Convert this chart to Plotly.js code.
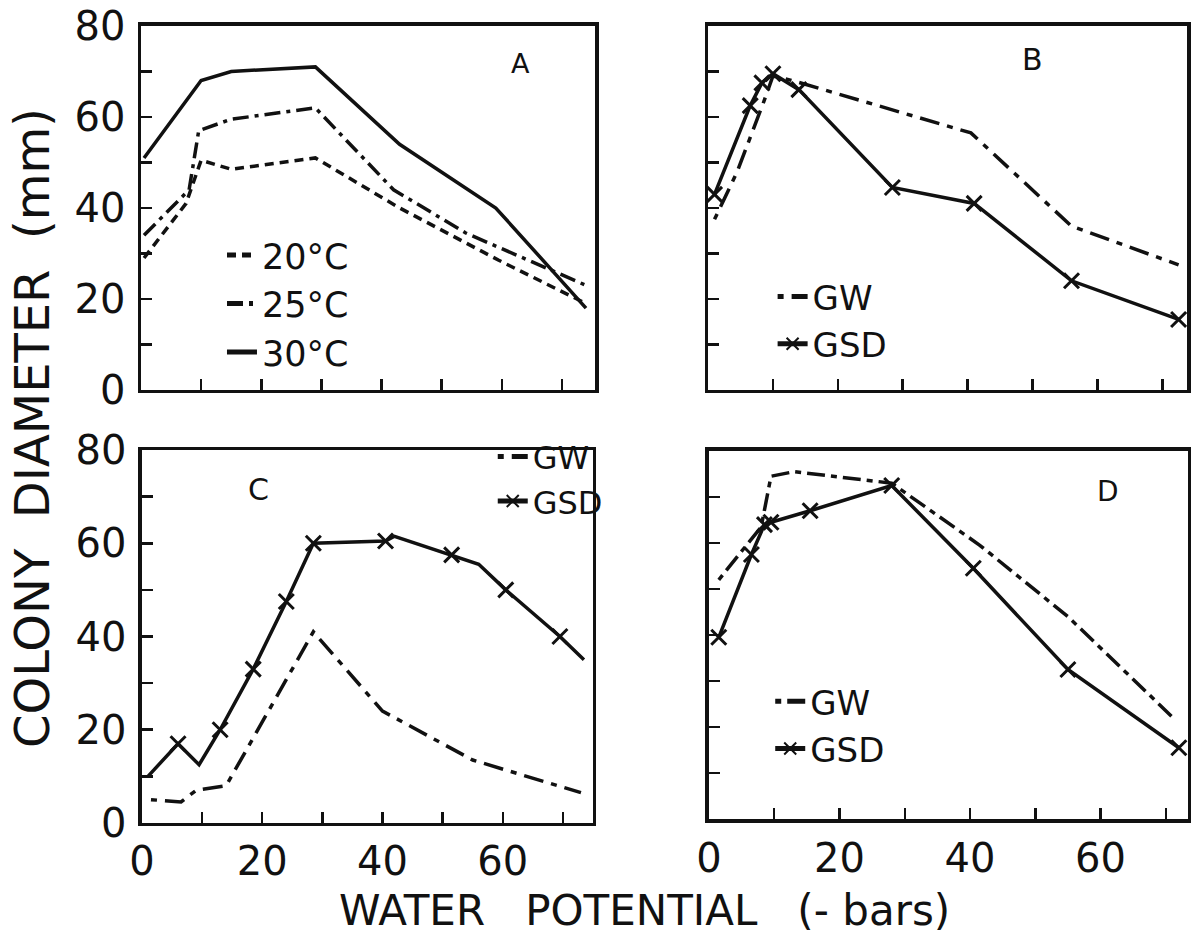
<!DOCTYPE html>
<html>
<head>
<meta charset="utf-8">
<script src="https://cdn.plot.ly/plotly-3.0.1.min.js"></script>
<style>html,body{margin:0;padding:0;background:#fff;}#chart{width:1196px;height:937px;}</style>
</head>
<body>
<div id="chart"></div>
<script>
// ---- Data ----
// Panel A: temperatures
const xA20 = [0.5, 7.5, 10, 15, 29, 43, 59.5, 74];
const yA20 = [29, 41, 50.5, 48.5, 51, 40, 28.5, 19];
const xA25 = [0.5, 8, 9.6, 15, 29, 42, 54, 60, 74];
const yA25 = [34, 44, 57, 59.5, 62, 44, 34.5, 31, 23];
const xA30 = [0.5, 10, 15, 29, 43, 59, 74];
const yA30 = [51, 68, 70, 71, 54, 40, 18];
// Panel B
const xBGW = [1, 4.5, 8.5, 10, 13, 40.5, 56, 72.5];
const yBGW = [37.5, 48, 63, 69, 68, 56.5, 36, 27.5];
const xBGSD = [1, 6.5, 8.3, 10, 14, 28.4, 41, 56, 72.5];
const yBGSD = [43, 62.5, 67.5, 69.5, 66, 44.5, 41, 24, 15.5];
// Panel C
const xCGW = [1.5, 6.5, 9, 14, 28.5, 40, 55, 73];
const yCGW = [5, 4.5, 7, 8, 41, 24, 13.5, 6.5];
const xCGSD = [1, 6, 9.5, 13, 18.5, 24, 28.5, 40.5, 42, 51.5, 56, 60.5, 69.5, 73.5];
const yCGSD = [10, 17, 12.5, 20, 33, 47.5, 60, 60.5, 61.5, 57.5, 55.5, 50, 40, 35];
const cGSDMeasured = [false, true, false, true, true, true, true, true, false, true, false, true, true, false];
// Panel D
const xDGW = [1.5, 6, 8, 9.5, 13, 28, 41.5, 55, 71.5];
const yDGW = [52, 60, 63.5, 74.5, 75.5, 73, 59.5, 44, 21.5];
const xDGSD = [1.5, 6.5, 8.5, 9.5, 15.5, 28, 40.5, 55, 72];
const yDGSD = [39.5, 57.5, 64, 64.5, 67, 72.5, 54.5, 32.5, 15.5];
// Ticks
const yTickVals = [0, 10, 20, 30, 40, 50, 60, 70, 80];
const yTickText = ['0', '', '20', '', '40', '', '60', '', '80'];
const xTickVals = [0, 10, 20, 30, 40, 50, 60, 70];
const xTickText = ['0', '', '20', '', '40', '', '60', ''];
const panelLabels = ['A', 'B', 'C', 'D'];
const legendNames = {t20: '20°C', t25: '25°C', t30: '30°C', gw: 'GW', gsd: 'GSD'};

// ---- Styling ----
const FONT = 'DejaVu Sans, Liberation Sans, sans-serif';
const LW = 3.5;
const blk = '#111';
const xMarker = {symbol: 'x-thin-open', size: 15, color: blk, opacity: 1, line: {color: blk, width: 3}};

const traces = [
  {x: xA20, y: yA20, xaxis: 'x', yaxis: 'y', mode: 'lines', name: legendNames.t20, legend: 'legend',
   line: {color: blk, width: LW, dash: '9px,6px'}},
  {x: xA25, y: yA25, xaxis: 'x', yaxis: 'y', mode: 'lines', name: legendNames.t25, legend: 'legend',
   line: {color: blk, width: LW, dash: '16px,6px,4px,6px'}},
  {x: xA30, y: yA30, xaxis: 'x', yaxis: 'y', mode: 'lines', name: legendNames.t30, legend: 'legend',
   line: {color: blk, width: LW}},

  {x: xBGW, y: yBGW, xaxis: 'x2', yaxis: 'y2', mode: 'lines', name: legendNames.gw, legend: 'legend2',
   line: {color: blk, width: LW, dash: '6px,8px,20px,8px'}},
  {x: xBGSD, y: yBGSD, xaxis: 'x2', yaxis: 'y2', mode: 'lines+markers', name: legendNames.gsd, legend: 'legend2',
   line: {color: blk, width: LW}, marker: xMarker},

  {x: xCGW, y: yCGW, xaxis: 'x3', yaxis: 'y3', mode: 'lines', name: legendNames.gw, legend: 'legend3',
   line: {color: blk, width: LW, dash: '6px,8px,20px,8px'}},
  {x: xCGSD, y: yCGSD, xaxis: 'x3', yaxis: 'y3', mode: 'lines+markers', name: legendNames.gsd, legend: 'legend3',
   line: {color: blk, width: LW},
   marker: Object.assign({}, xMarker, {size: cGSDMeasured.map(m => m ? 15 : 0)})},

  {x: xDGW, y: yDGW, xaxis: 'x4', yaxis: 'y4', mode: 'lines', name: legendNames.gw, legend: 'legend4',
   line: {color: blk, width: LW, dash: '6px,6px,18px,6px'}},
  {x: xDGSD, y: yDGSD, xaxis: 'x4', yaxis: 'y4', mode: 'lines+markers', name: legendNames.gsd, legend: 'legend4',
   line: {color: blk, width: LW}, marker: xMarker}
];

function xa(domain, range, labels, anchor) {
  return {domain: domain, range: range, anchor: anchor, showline: true, mirror: true, linewidth: 3.5, linecolor: blk,
    ticks: 'inside', ticklen: 11, tickwidth: 2.5, tickcolor: blk, tickvals: xTickVals,
    ticktext: xTickText, showticklabels: labels, showgrid: false, zeroline: false,
    tickfont: {family: FONT, size: 40, color: blk}, ticklabelstandoff: 1, fixedrange: true};
}
function ya(domain, labels, anchor) {
  return {domain: domain, range: [0, 80], anchor: anchor, showline: true, mirror: true, linewidth: 3.5, linecolor: blk,
    ticks: 'inside', ticklen: 11, tickwidth: 2.5, tickcolor: blk, tickvals: yTickVals,
    ticktext: yTickText, showticklabels: labels, showgrid: false, zeroline: false,
    tickfont: {family: FONT, size: 40, color: blk}, ticklabelstandoff: 4, fixedrange: true};
}
function leg(x, y, size) {
  return {x: x, y: y, xanchor: 'left', yanchor: 'top', bgcolor: 'rgba(0,0,0,0)', borderwidth: 0,
    font: {family: FONT, size: size, color: blk}, itemsizing: 'constant', tracegroupgap: 0};
}
function panelLabel(i, ax, x, y, size) {
  return {text: panelLabels[i], xref: ax + ' domain', yref: 'y' + ax.slice(1) + ' domain', x: x, y: y,
    xanchor: 'center', yanchor: 'middle', showarrow: false, font: {family: FONT, size: size, color: blk}};
}

const layout = {
  width: 1196, height: 937,
  margin: {l: 0, r: 0, t: 0, b: 0},
  paper_bgcolor: '#fff', plot_bgcolor: '#fff',
  showlegend: true,
  xaxis: xa([0.1179, 0.4975], [0, 75.5], false, 'y'),
  yaxis: ya([0.5838, 0.9723], true, 'x'),
  xaxis2: xa([0.5920, 0.9925], [0, 73.8], false, 'y2'),
  yaxis2: ya([0.5838, 0.9723], false, 'x2'),
  xaxis3: xa([0.1187, 0.4958], [0, 75], true, 'y3'),
  yaxis3: ya([0.1217, 0.5197], true, 'x3'),
  xaxis4: xa([0.5928, 0.9933], [0, 73.4], true, 'y4'),
  yaxis4: ya([0.1259, 0.5187], false, 'x4'),
  legend: leg(0.1856, 0.759, 35),
  legend2: leg(0.646, 0.714, 34),
  legend3: leg(0.412, 0.542, 32),
  legend4: leg(0.644, 0.282, 34),
  annotations: [
    panelLabel(0, 'x', 0.835, 0.898, 27),
    panelLabel(1, 'x2', 0.677, 0.907, 30),
    panelLabel(2, 'x3', 0.259, 0.893, 30),
    panelLabel(3, 'x4', 0.834, 0.889, 28),
    {text: 'COLONY\u00A0 DIAMETER\u00A0 (mm)', xref: 'paper', yref: 'paper', x: 0.0268, y: 0.5432,
     xanchor: 'center', yanchor: 'middle',
     textangle: -90, showarrow: false, font: {family: FONT, size: 48, color: blk}},
    {text: 'WATER\u00A0\u00A0 POTENTIAL\u00A0\u00A0 (-\u00A0bars)', xref: 'paper', yref: 'paper', x: 0.539, y: 0.028,
     xanchor: 'center', yanchor: 'middle',
     showarrow: false, font: {family: FONT, size: 42, color: blk}}
  ]
};

Plotly.newPlot('chart', traces, layout, {displayModeBar: false, staticPlot: true});
</script>
</body>
</html>
